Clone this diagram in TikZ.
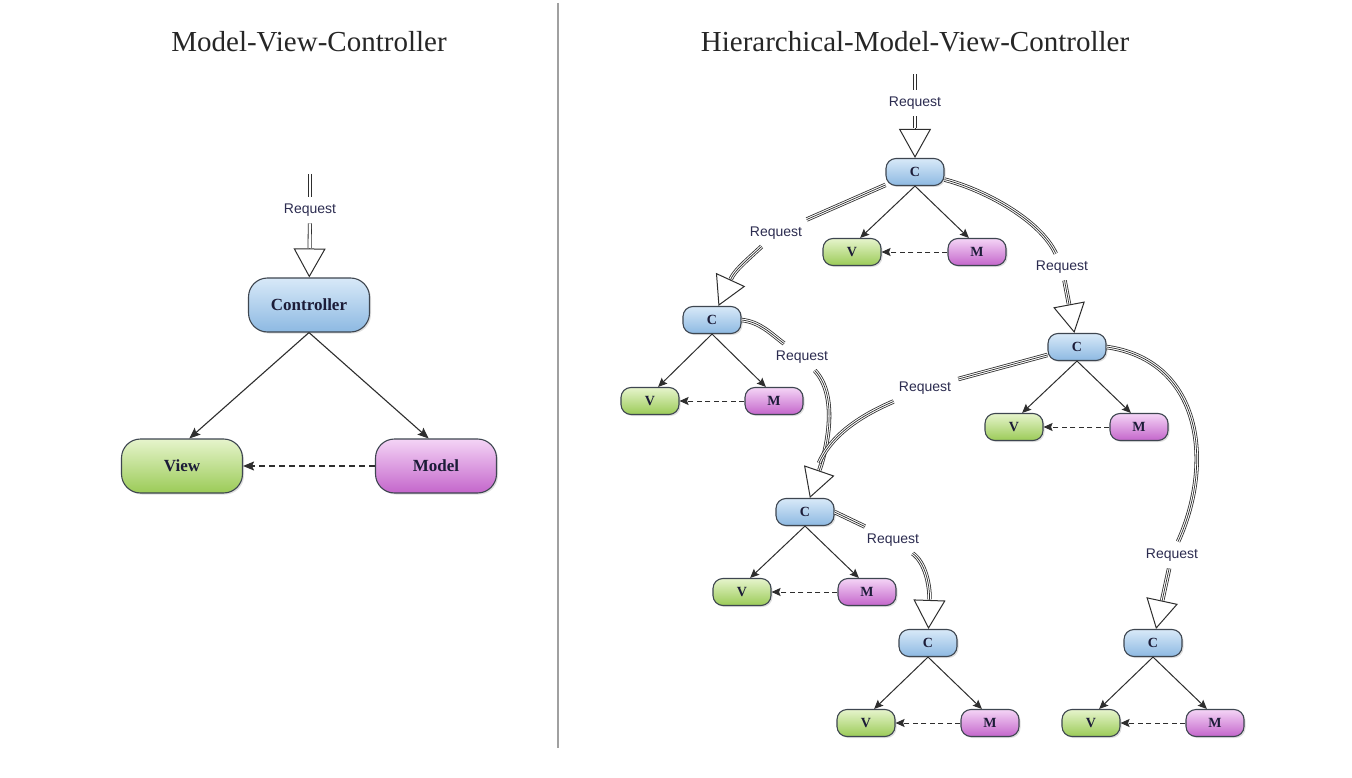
\documentclass[tikz,border=0pt]{standalone}
\usepackage{fontspec}
\setmainfont{Liberation Serif}
\newfontfamily\reqfont{Liberation Sans}
\usetikzlibrary{arrows.meta,shadows}
\definecolor{bluetop}{HTML}{D8E9F8}
\definecolor{bluebot}{HTML}{8DB9E2}
\definecolor{greentop}{HTML}{E6F4CC}
\definecolor{greenbot}{HTML}{9BCB57}
\definecolor{purptop}{HTML}{F4D4F6}
\definecolor{purpbot}{HTML}{C466CB}
\definecolor{boxborder}{HTML}{3E4650}
\definecolor{nodetext}{HTML}{1C1C38}
\definecolor{reqtext}{HTML}{2C2C50}
\definecolor{lineblack}{HTML}{2E2E2E}
\definecolor{sepgray}{HTML}{A0A0A0}
\begin{document}
\begin{tikzpicture}[x=1pt,y=-1pt,
  box/.style={draw=boxborder, line width=1.1pt, text=nodetext,
    drop shadow={shadow xshift=1.5pt,shadow yshift=-1.5pt,opacity=0.25}},
  big/.style={box, minimum width=121pt, minimum height=54pt, rounded corners=19pt,
    font=\fontsize{17}{20}\selectfont\bfseries},
  small/.style={box, minimum width=58pt, minimum height=27pt, rounded corners=10pt,
    font=\fontsize{14}{16}\selectfont\bfseries},
  ctrl/.style={top color=bluetop, bottom color=bluebot},
  viewc/.style={top color=greentop, bottom color=greenbot},
  modelc/.style={top color=purptop, bottom color=purpbot},
  title/.style={font=\fontsize{29}{32}\selectfont, text=black!85},
  req/.style={font=\reqfont\fontsize{14}{16}\selectfont, text=reqtext, inner sep=7pt},
  arr/.style={draw=lineblack, line width=1.1pt, -{Stealth[length=11pt,width=9pt,inset=2pt]}},
  sarr/.style={draw=lineblack, line width=1pt, -{Stealth[length=9pt,width=8pt,inset=1.5pt]}},
  darr/.style={arr, dash pattern=on 6pt off 4pt},
  sdarr/.style={sarr, dash pattern=on 5pt off 3.5pt},
  dbl/.style={draw=lineblack, double=white, double distance=2.4pt, line width=0.8pt},
  tri/.style={draw=white, line width=2.8pt,
    preaction={draw=lineblack, line width=4.4pt},
    postaction={draw=lineblack, line width=0.7pt}},
  tipp/.style={draw=lineblack, line width=0.7pt,
    -{Triangle[width=32pt,length=29pt,fill=white,line width=1pt]}},
  cut/.style={shorten >=29.5pt}
]
\fill[white] (0,0) rectangle (1352,778);
\useasboundingbox (0,0) rectangle (1352,778);

% separator and titles
\draw[sepgray, line width=1.5pt] (558,3) -- (558,748);
\node[title] (t1) at (309,42) {Model-View-Controller};
\node[title] (t2) at (915,42) {Hierarchical-Model-View-Controller};

% ---------------- MVC ----------------
\node[big, ctrl] (ctl) at (309,305) {Controller};
\node[big, viewc] (view) at (182,466) {View};
\node[big, modelc] (model) at (436,466) {Model};
\coordinate (in1) at (310,174);
\node[req] (rqL) at (310,210) {Request};
\draw[dbl] (in1) -- (rqL);
\draw[tipp] (rqL) -- (ctl);
\draw[dbl, cut] (rqL) -- (ctl);
\draw[arr] (ctl.south) -- (view.75);
\draw[arr] (ctl.south) -- (model.105);
\draw[darr] (model.west) -- (view.east);

% ---------------- HMVC ----------------
\node[small, ctrl] (c1) at (915,172) {C};
\node[small, viewc] (v1) at (852,252) {V};
\node[small, modelc] (m1) at (977,252) {M};
\node[small, ctrl] (c2) at (712,320) {C};
\node[small, viewc] (v2) at (650,401) {V};
\node[small, modelc] (m2) at (774,401) {M};
\node[small, ctrl] (c3) at (1077,347) {C};
\node[small, viewc] (v3) at (1014,427) {V};
\node[small, modelc] (m3) at (1139,427) {M};
\node[small, ctrl] (c4) at (805,512) {C};
\node[small, viewc] (v4) at (742,592) {V};
\node[small, modelc] (m4) at (867,592) {M};
\node[small, ctrl] (c5) at (928,643) {C};
\node[small, viewc] (v5) at (866,723) {V};
\node[small, modelc] (m5) at (990,723) {M};
\node[small, ctrl] (c6) at (1153,643) {C};
\node[small, viewc] (v6) at (1091,723) {V};
\node[small, modelc] (m6) at (1215,723) {M};

\foreach \i in {1,...,6}{
  \draw[sarr] (c\i.south) -- (v\i.60);
  \draw[sarr] (c\i.south) -- (m\i.120);
  \draw[sdarr] (m\i.west) -- (v\i.east);
}

% request labels
\node[req] (rq0) at (915,103) {Request};
\node[req] (rq1) at (776,233) {Request};
\node[req] (rq2) at (1062,267) {Request};
\node[req] (rq3) at (802,357) {Request};
\node[req] (rq4) at (925,388) {Request};
\node[req] (rq5) at (1172,555) {Request};
\node[req] (rq6) at (893,540) {Request};
\coordinate (in2) at (915,74);
\coordinate (j4) at (819,463);

% top request
\draw[dbl] (in2) -- (rq0);
\draw[tipp] (rq0) -- (c1);
\draw[dbl, cut] (rq0) -- (c1);

% C1 -> C2
\draw[tri] (c1) -- (rq1);
\draw[tipp] (rq1) .. controls (745,262) and (735,270) .. (c2);
\draw[tri, cut] (rq1) .. controls (745,262) and (735,270) .. (c2);

% C1 -> C3
\draw[tri] (c1) .. controls (985,190) and (1040,220) .. (rq2);
\draw[tipp] (rq2) -- (c3);
\draw[tri, cut] (rq2) -- (c3);

% C2 -> C4
\draw[tri] (c2.east) .. controls (760,322) and (770,333) .. (rq3);
\draw[tipp] (rq3) .. controls (838,395) and (828,445) .. (c4);
\draw[tri, cut] (rq3) .. controls (838,395) and (828,445) .. (c4);

% C3 -> C4 (merging)
\draw[tri] (c3) -- (rq4);
\draw[tri] (rq4) .. controls (855,418) and (830,438) .. (j4);

% C3 -> C6
\draw[tri] (c3.east) .. controls (1200,360) and (1215,460) .. (rq5);
\draw[tipp] (rq5) -- (c6);
\draw[tri, cut] (rq5) -- (c6);

% C4 -> C5
\draw[tri] (c4.east) -- (rq6);
\draw[tipp] (rq6) .. controls (925,562) and (930,585) .. (c5);
\draw[tri, cut] (rq6) .. controls (925,562) and (930,585) .. (c5);
\end{tikzpicture}
\end{document}
